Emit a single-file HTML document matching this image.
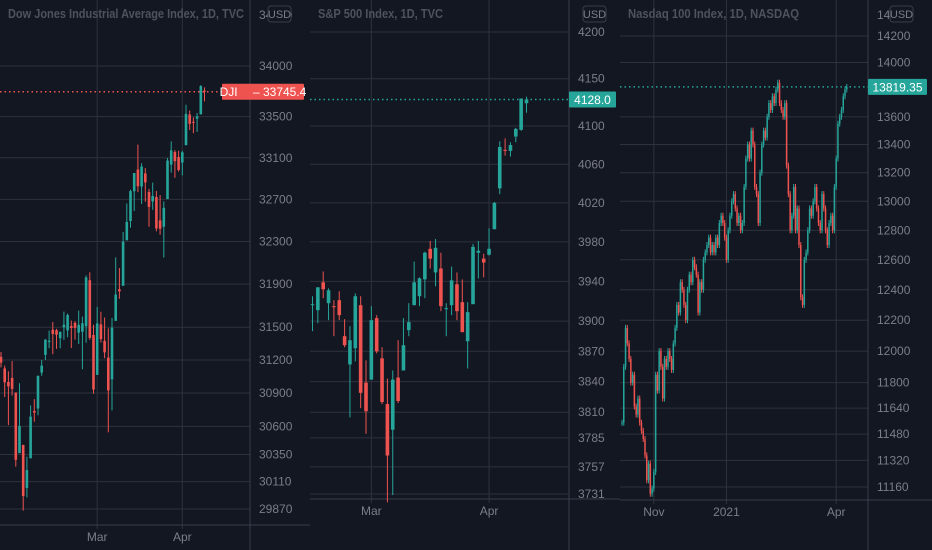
<!DOCTYPE html>
<html><head><meta charset="utf-8">
<style>
html,body{margin:0;padding:0;background:#131722;}
svg{display:block;font-family:"Liberation Sans",sans-serif;}
</style></head>
<body>
<svg id="chart" width="932" height="550" viewBox="0 0 932 550">
<rect x="0" y="0" width="932" height="550" fill="#131722"/>
</svg>
<script>
// ---------- DJI data ----------
const djiOpen  = [31229,31123,31000,31037,30905,30362,30435,30054,30316,30739,30761,31085,31247,31365,31478,31473,31400,31499,31471,31511,31540,31451,31459,31510,31936,31429,31065,31526,31375,31222,31024,31559,31852,31884,32311,32494,32778,32987,32823,32949,32771,32681,32723,32500,32440,32703,33034,33156,33107,33054,33222,33521,33450,33480,33523,33756];
const djiHigh  = [31273,31149,31097,31190,30905,30988,30435,30330,30788,30845,31058,31199,31391,31469,31549,31485,31460,31644,31627,31562,31557,31653,31598,31981,32010,31523,31688,31643,31590,31490,31585,32150,32050,32389,32661,32793,32953,33227,33047,33000,32800,32860,32781,32741,32680,33098,33259,33174,33168,33167,33617,33560,33493,33536,33810,33788];
const djiLow   = [31133,30864,30612,30877,30242,30362,29856,29972,30316,30642,30700,31056,31200,31308,31253,31302,31307,31384,31409,31310,31386,31345,31116,31358,31385,30894,31065,31360,31216,30547,30744,31559,31763,31884,32311,32431,32589,32770,32657,32677,32439,32600,32396,32364,32148,32703,32956,32907,32967,32930,33222,33370,33339,33351,33523,33650];
const djiClose = [31176,30997,30960,30937,30303,30603,29983,30212,30688,30724,31056,31148,31386,31376,31438,31431,31458,31523,31613,31494,31494,31522,31537,31962,31402,30932,31535,31391,31270,30924,31496,31802,31832,32297,32485,32779,32953,32826,33015,32862,32628,32732,32423,32420,32619,33073,33171,33067,32982,33153,33527,33430,33446,33503,33801,33745];
const djiTicks = [34000,33500,33100,32700,32300,31900,31500,31200,30900,30600,30350,30110,29870];
const djiMonths = ["Mar","Apr"];
const djiMonthIdx = [26,49];
const djiLast = 33745.4;

// ---------- S&P data ----------
const spxOpen  = [3916,3911,3939,3918,3915,3921,3885,3857,3873,3916,3839,3842,3903,3863,3818,3793,3844,3851,3891,3916,3925,3942,3973,3949,3953,3913,3916,3937,3919,3880,3917,3969,3963,3967,3993,4035,4075,4074,4089,4096,4124];
const spxHigh  = [3925,3934,3950,3933,3921,3930,3902,3895,3928,3925,3861,3915,3906,3874,3843,3851,3881,3903,3918,3960,3944,3970,3981,3983,3969,3918,3955,3949,3942,3919,3978,3981,3968,3994,4021,4084,4087,4083,4098,4129,4131];
const spxLow   = [3890,3898,3923,3901,3885,3901,3874,3805,3860,3814,3789,3842,3868,3818,3723,3730,3819,3851,3885,3916,3915,3923,3953,3935,3910,3885,3906,3901,3889,3853,3917,3943,3944,3966,3993,4029,4069,4068,4083,4095,4114];
const spxClose = [3917,3934,3932,3931,3914,3906,3876,3881,3925,3829,3811,3901,3870,3820,3768,3842,3821,3876,3899,3939,3943,3969,3963,3974,3915,3913,3941,3910,3889,3909,3975,3971,3959,3973,4020,4078,4074,4080,4097,4129,4128];
const spxTicks = [4200,4150,4100,4060,4020,3980,3940,3900,3870,3840,3810,3785,3757,3731];
const spxMonths = ["Mar","Apr"];
const spxMonthIdx = [11,33];
const spxLast = 4128.0;

// ---------- NDX data ----------
const ndxClose = [11550,11900,12150,12050,11950,11800,11850,11650,11600,11700,11550,11500,11450,11350,11200,11300,11120,11150,11250,11850,11750,12000,11900,11700,11950,11900,12000,11950,11880,12050,12150,12300,12250,12450,12400,12300,12200,12400,12500,12450,12600,12550,12500,12250,12450,12400,12600,12650,12700,12750,12650,12700,12650,12750,12700,12850,12900,12850,12750,12600,12800,12900,13000,13050,12950,12850,12900,12800,12850,13100,13300,13400,13300,13500,13400,13100,13050,12850,13200,13400,13500,13450,13600,13700,13650,13750,13700,13800,13850,13700,13650,13600,13700,13250,13050,12800,12900,13100,12800,12950,12700,12350,12300,12600,12650,12800,12950,12900,13000,13100,12950,12850,12800,13050,12950,12800,12700,12850,12900,12800,13100,13300,13550,13600,13650,13750,13800,13819];
const ndxTicks = [14200,14000,13600,13400,13200,13000,12800,12600,12400,12200,12000,11800,11640,11480,11320,11160];
const ndxMonths = ["Nov","2021","Apr"];
const ndxMonthIdx = [18,59,121];
const ndxLast = 13819.35;

const GREEN="#26a69a", RED="#ef5350", GRID="#2e323d", TXT="#7b7e89", AX="#3a3e4a";
const svg=document.getElementById('chart');
const NS="http://www.w3.org/2000/svg";
function mk(tag,attrs,parent){const e=document.createElementNS(NS,tag);for(const k in attrs)e.setAttribute(k,attrs[k]);(parent||svg).appendChild(e);return e;}

function panel(cfg){
  const g=mk('g',{});
  
  
  const lt=Math.log(cfg.vTop), lb=Math.log(cfg.vBot);
  const y=v=>cfg.yTop+(lt-Math.log(v))/(lt-lb)*(cfg.yBot-cfg.yTop);
  const x=i=>cfg.x0+i*cfg.step;
  cfg.ticks.forEach(t=>{
    const l=mk('line',{x1:cfg.left,x2:cfg.axisX,y1:y(t),y2:y(t),stroke:GRID,'stroke-width':1},g);
    
    
    const tx=mk('text',{x:cfg.axisX+9,y:y(t)+4,fill:TXT,'font-size':12},g);
    tx.textContent=t;
    
    
  });
  const tt=mk('text',{x:cfg.axisX+9,y:19,fill:TXT,'font-size':12},g);
  tt.textContent=cfg.topLabel;
  
  
  cfg.months.forEach((m,k)=>{
    const xx=x(cfg.monthIdx[k]);
    const l=mk('line',{x1:xx,x2:xx,y1:0,y2:cfg.baseY+4,stroke:GRID,'stroke-width':1},g);
    
    
    const tx=mk('text',{x:xx,y:cfg.baseY+16,fill:TXT,'font-size':12,'text-anchor':'middle'},g);
    tx.textContent=m;
    
    
  });
  const ax=mk('line',{x1:cfg.axisX,x2:cfg.axisX,y1:0,y2:550,stroke:AX,'stroke-width':1},g);
  
  
  const bx=mk('line',{x1:cfg.left,x2:cfg.right,y1:cfg.baseY,y2:cfg.baseY,stroke:AX,'stroke-width':1},g);
  
  
  const n=cfg.close.length;
  for(let i=0;i<n;i++){
    const c=cfg.close[i];
    const o=cfg.open?cfg.open[i]:(i>0?cfg.close[i-1]:c);
    const up=c>=o, col=up?GREEN:RED;
    let hy,ly;
    if(cfg.high){hy=y(cfg.high[i]);ly=y(cfg.low[i]);}
    else{hy=Math.min(y(o),y(c))-cfg.wick;ly=Math.max(y(o),y(c))+cfg.wick;}
    const xx=x(i);
    const w=mk('line',{x1:xx,x2:xx,y1:hy,y2:ly,stroke:col,'stroke-width':1},g);
    
    
    const top=Math.min(y(o),y(c)), h=Math.max(1,Math.abs(y(o)-y(c)));
    const b=mk('rect',{x:xx-cfg.bw/2,y:top,width:cfg.bw,height:h,fill:col},g);
    
    
  }
  const ti=mk('text',{x:cfg.left+8,y:18,fill:'#4e525d','font-size':12.5,'font-weight':'bold',textLength:cfg.titleLen,lengthAdjust:'spacingAndGlyphs'},g);
  ti.textContent=cfg.title;
  
  
  const ub=mk('rect',{x:cfg.usdX,y:6,width:23,height:16,rx:3,fill:'#131722',stroke:'#3a3e4a'},g);
  
  
  const ut=mk('text',{x:cfg.usdX+11.5,y:18,fill:TXT,'font-size':11,'text-anchor':'middle'},g);
  ut.textContent='USD';
  
  
  const ly2=y(cfg.last), lc=cfg.lastColor;
  const dl=mk('line',{x1:cfg.left,x2:cfg.labelX,y1:ly2,y2:ly2,stroke:lc,'stroke-width':1.5,'stroke-dasharray':'1.5 3'},g);
  
  
  const lb2=mk('rect',{x:cfg.labelX,y:ly2-8,width:cfg.labelW,height:16,rx:1,fill:lc},g);
  
  
  const lt2=mk('text',{x:cfg.labelX+cfg.labelW/2,y:ly2+4.5,fill:'#ffffff','font-size':12,'text-anchor':'middle'},g);
  lt2.textContent=cfg.lastText;
  
  
}

panel({name:'dji',title:'Dow Jones Industrial Average Index, 1D, TVC',titleLen:236,left:0,right:310,axisX:250,baseY:525,
  vTop:34000,vBot:29870,yTop:66,yBot:509,x0:1,step:3.7,bw:2.6,
  open:djiOpen,high:djiHigh,low:djiLow,close:djiClose,ticks:djiTicks,topLabel:'34500',
  months:djiMonths,monthIdx:djiMonthIdx,usdX:268,last:djiLast,lastColor:RED,labelX:222,labelW:82,
  lastText:'DJI \u2003\u2013 '+djiLast.toFixed(1)});
panel({name:'spx',title:'S&P 500 Index, 1D, TVC',titleLen:125,left:310,right:620,axisX:569,baseY:499,
  vTop:4200,vBot:3731,yTop:32,yBot:494,x0:312.5,step:5.35,bw:3.6,
  open:spxOpen,high:spxHigh,low:spxLow,close:spxClose,ticks:spxTicks,topLabel:'',
  months:spxMonths,monthIdx:spxMonthIdx,usdX:583,last:spxLast,lastColor:GREEN,labelX:569,labelW:47,
  lastText:spxLast.toFixed(1)});
panel({name:'ndx',title:'Nasdaq 100 Index, 1D, NASDAQ',titleLen:171,left:620,right:932,axisX:868,baseY:500,
  vTop:14200,vBot:11160,yTop:36,yBot:487,x0:622,step:1.77,bw:1.5,wick:3,
  close:ndxClose,ticks:ndxTicks,topLabel:'14',
  months:ndxMonths,monthIdx:ndxMonthIdx,usdX:890,last:ndxLast,lastColor:GREEN,labelX:868,labelW:59,
  lastText:ndxLast.toFixed(2)});
</script>
</body></html>
